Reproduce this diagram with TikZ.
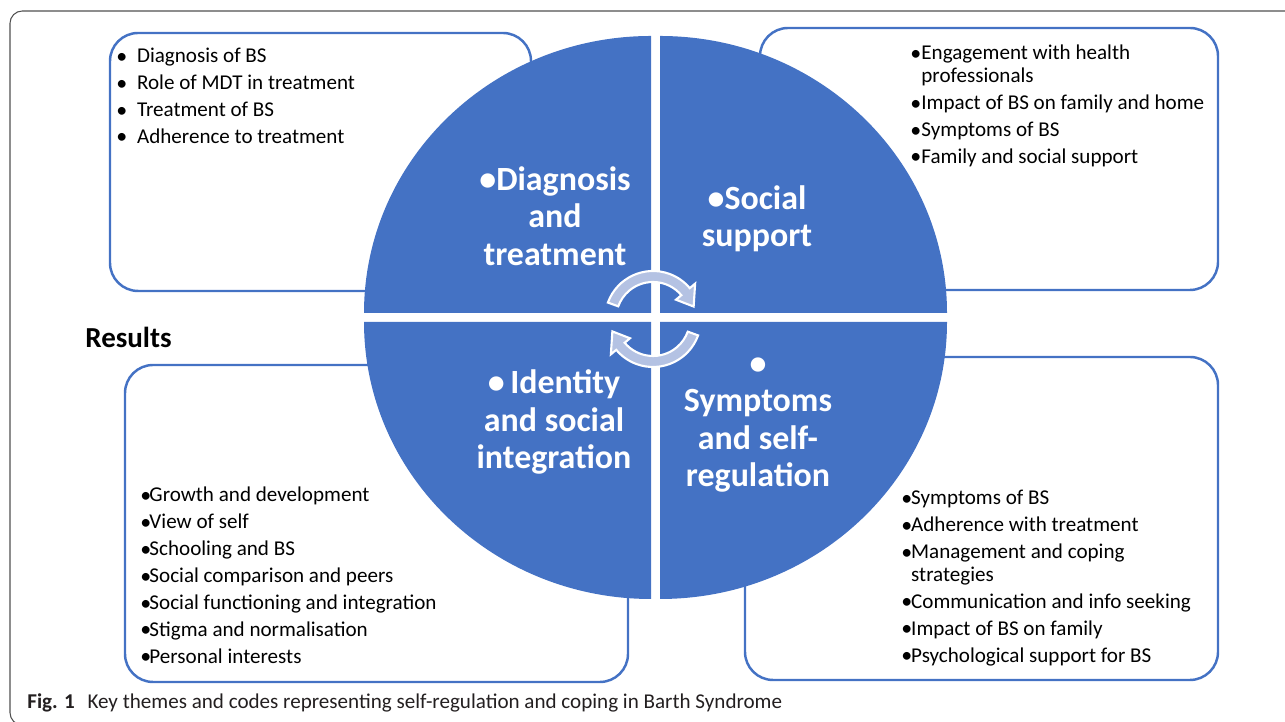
\documentclass[tikz,border=0pt]{standalone}
\usepackage{fontspec}
\setmainfont{Carlito}
\definecolor{themeblue}{HTML}{4472C4}
\definecolor{arrowfill}{HTML}{B4C2E3}
\definecolor{framegray}{HTML}{505050}
\definecolor{captiongray}{HTML}{231F20}
\newcommand{\bul}[1]{\makebox[#1][l]{\raisebox{-0.05ex}{\fontsize{12.5}{0}\selectfont\textbullet}}}

\begin{document}
\begin{tikzpicture}[
        x=0.02cm,y=0.02cm,
        listbox/.style={draw=themeblue,line width=1.4pt,rounded corners=16pt},
        quadrant/.style={fill=themeblue},
        cyclearrow/.style={fill=arrowfill,draw=white,line width=1.2pt},
        codes/.style={anchor=north west,inner sep=0pt,align=left,font=\fontsize{12}{13}\selectfont},
        theme/.style={text=white,align=center,inner sep=0pt,font=\bfseries\fontsize{19.3}{21.2}\selectfont}
    ]
    \useasboundingbox (0,0) rectangle (1285,722);
    \draw[framegray,line width=0.6pt,rounded corners=7pt] (10,-3) rectangle (1300,711);

    \draw[listbox] (110,431) rectangle (531,689);
    \draw[listbox] (760,432) rectangle (1218,694);
    \draw[listbox] (125,40) rectangle (628,357);
    \draw[listbox] (745,42) rectangle (1218,365);

    % four quarters of the wheel
    \fill[quadrant] (651,409) -- (364,409) arc[start angle=180,end angle=90,x radius=287,y radius=277] -- cycle;
    \fill[quadrant] (660,409) -- (660,686) arc[start angle=90,end angle=0,x radius=287,y radius=277] -- cycle;
    \fill[quadrant] (651,400) -- (651,123) arc[start angle=270,end angle=180,x radius=287,y radius=277] -- cycle;
    \fill[quadrant] (660,400) -- (947,400) arc[start angle=0,end angle=-90,x radius=287,y radius=277] -- cycle;

    \foreach \turn in {0,180}
        \filldraw[cyclearrow,shift={(653,403)},rotate=\turn]
            (160:48) arc[start angle=160,end angle=40,radius=48]
            -- (40:55) -- (17:42.5) -- (40:30) -- (40:37)
            arc[start angle=40,end angle=160,radius=37] -- cycle;

    \node[theme] (dxtheme) at (555,506) {\textbullet Diagnosis\\and\\treatment};
    \node[theme] (supporttheme) at (757,503) {\textbullet Social\\support};
    \node[theme] (identitytheme) at (554,300) {\textbullet\,Identity\\and social\\integration};
    \node[theme] (symptomtheme) at (758,297) {\textbullet\\Symptoms\\and self-\\regulation};

    \node[codes] (dxcodes) at (116,674) {\bul{11.8pt}Diagnosis of BS\\[2.3pt]
        \bul{11.8pt}Role of MDT in treatment\\[2.3pt]
        \bul{11.8pt}Treatment of BS\\[2.3pt]
        \bul{11.8pt}Adherence to treatment};
    \node[codes] (supportcodes) at (910,677) {\bul{6.3pt}Engagement with health\\
        \hspace*{6.3pt}professionals\\[2.3pt]
        \bul{6.3pt}Impact of BS on family and home\\[2.3pt]
        \bul{6.3pt}Symptoms of BS\\[2.3pt]
        \bul{6.3pt}Family and social support};
    \node[codes] (identitycodes) at (140,235) {\bul{5.2pt}Growth and development\\[2.3pt]
        \bul{5.2pt}View of self\\[2.3pt]
        \bul{5.2pt}Schooling and BS\\[2.3pt]
        \bul{5.2pt}Social comparison and peers\\[2.3pt]
        \bul{5.2pt}Social functioning and integration\\[2.3pt]
        \bul{5.2pt}Stigma and normalisation\\[2.3pt]
        \bul{5.2pt}Personal interests};
    \node[codes] (symptomcodes) at (901,232) {\bul{5.6pt}Symptoms of BS\\[2.3pt]
        \bul{5.6pt}Adherence with treatment\\[2.3pt]
        \bul{5.6pt}Management and coping\\
        \hspace*{5.6pt}strategies\\[2.3pt]
        \bul{5.6pt}Communication and info seeking\\[2.3pt]
        \bul{5.6pt}Impact of BS on family\\[2.3pt]
        \bul{5.6pt}Psychological support for BS};

    \node[anchor=west,inner sep=0pt,font=\bfseries\fontsize{16.5}{19}\selectfont] (results) at (85,385) {Results};
    \node[anchor=base west,inner sep=0pt,text=captiongray,font=\fontsize{12}{14}\selectfont] (caption) at (27,13)
        {\textbf{Fig. 1}\hspace{0.6em}Key themes and codes representing self-regulation and coping in Barth Syndrome};
\end{tikzpicture}
\end{document}
